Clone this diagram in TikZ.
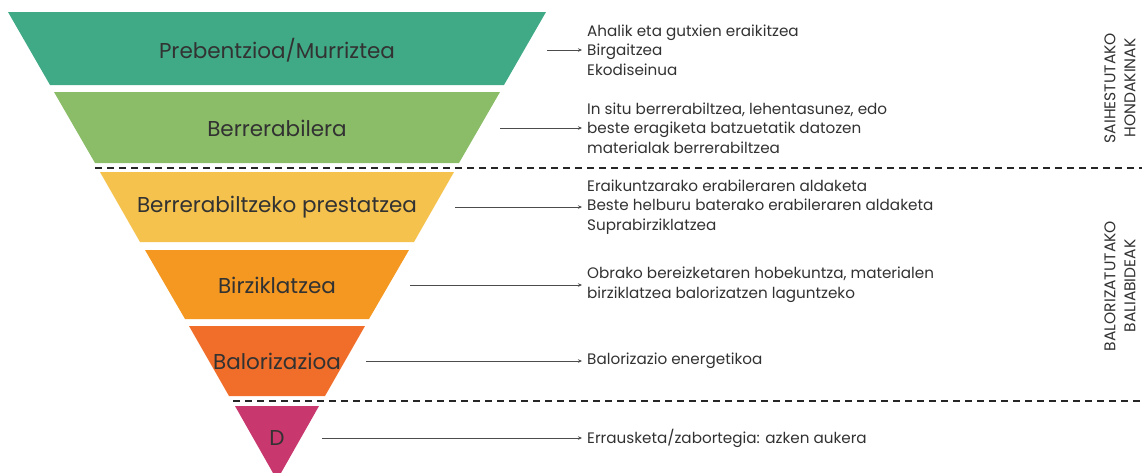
\documentclass[tikz,border=0pt]{standalone}
\usepackage{fontspec}
\setmainfont{Poppins}
\usetikzlibrary{arrows.meta, positioning, calc}
\definecolor{Prevent}{RGB}{64, 170, 135}
\definecolor{Reuse}{RGB}{139, 189, 104}
\definecolor{Prepare}{RGB}{245, 194, 78}
\definecolor{Recycle}{RGB}{244, 152, 33}
\definecolor{Recover}{RGB}{240, 110, 42}
\definecolor{Dispose}{RGB}{200, 55, 110}
\definecolor{Ink}{RGB}{50, 50, 50}

\tikzset{
    tierlabel/.style={font=\fontsize{21.5}{25}\selectfont, text=Ink},
    note/.style={anchor=west, align=left, inner xsep=5pt, font=\fontsize{15.2}{19.5}\selectfont, text=Ink},
    link/.style={draw=black!70, line width=0.6pt, -{Stealth[length=4pt, width=3.5pt]}},
    split/.style={dash pattern=on 7pt off 5pt, line width=1.1pt, black!85},
    side/.style={rotate=90, align=center, font=\fontsize{15.5}{20}\selectfont, text=Ink}
}

\begin{document}
\begin{tikzpicture}[x=1pt, y=-1pt]
            \useasboundingbox (0,0) rectangle (1142,472);

            % Pyramid tiers
            \fill[Prevent] (8,12) -- (546,12) -- (504,85) -- (50,85) -- cycle;
            \fill[Reuse] (54,92) -- (500,92) -- (459,163) -- (95,163) -- cycle;
            \fill[Prepare] (100,172) -- (454,172) -- (414,242) -- (140,242) -- cycle;
            \fill[Recycle] (145,250) -- (409,250) -- (369,319) -- (185,319) -- cycle;
            \fill[Recover] (189,326) -- (365,326) -- (325,396) -- (229,396) -- cycle;
            \fill[Dispose] (235,406) -- (319,406) -- (277,480) -- cycle;

            \node[tierlabel] (prevent) at (277,50) {Prebentzioa/Murriztea};
            \node[tierlabel] (reuse) at (277,128) {Berrerabilera};
            \node[tierlabel] (prepare) at (277,207) {Berrerabiltzeko prestatzea};
            \node[tierlabel] (recycle) at (277,285) {Birziklatzea};
            \node[tierlabel] (recover) at (277,361) {Balorizazioa};
            \node[tierlabel] (dispose) at (277,438) {D};

            % Separators
            \draw[split] (95,168) -- (1142,168);
            \draw[split] (233,401) -- (1142,401);

            % Notes
            \node[note] (preventnote) at (582,50) {Ahalik eta gutxien eraikitzea\\Birgaitzea\\Ekodiseinua};
            \node[note] (reusenote) at (582,128) {In situ berrerabiltzea, lehentasunez, edo\\beste eragiketa batzuetatik datozen\\materialak berrerabiltzea};
            \node[note] (preparenote) at (582,207) {Eraikuntzarako erabileraren aldaketa\\Beste helburu baterako erabileraren aldaketa\\Suprabirziklatzea};
            \node[note] (recyclenote) at (582,285) {Obrako bereizketaren hobekuntza, materialen\\birziklatzea balorizatzen laguntzeko};
            \node[note] (recovernote) at (582,361) {Balorizazio energetikoa};
            \node[note] (disposenote) at (582,438) {Errausketa/zabortegia: azken aukera};

            % Arrows
            \coordinate (preventout) at (547,50);
            \coordinate (reuseout) at (500,128);
            \coordinate (prepareout) at (455,207);
            \coordinate (recycleout) at (410,285);
            \coordinate (recoverout) at (366,361);
            \coordinate (disposeout) at (322,438);
            \draw[link] (preventout) -- (preventout -| preventnote.west);
            \draw[link] (reuseout) -- (reuseout -| reusenote.west);
            \draw[link] (prepareout) -- (prepareout -| preparenote.west);
            \draw[link] (recycleout) -- (recycleout -| recyclenote.west);
            \draw[link] (recoverout) -- (recoverout -| recovernote.west);
            \draw[link] (disposeout) -- (disposeout -| disposenote.west);

            % Groups
            \node[side] (avoided) at (1120,88) {SAIHESTUTAKO\\HONDAKINAK};
            \node[side] (recovered) at (1120,286) {BALORIZATUTAKO\\BALIABIDEAK};
        \end{tikzpicture}
\end{document}
